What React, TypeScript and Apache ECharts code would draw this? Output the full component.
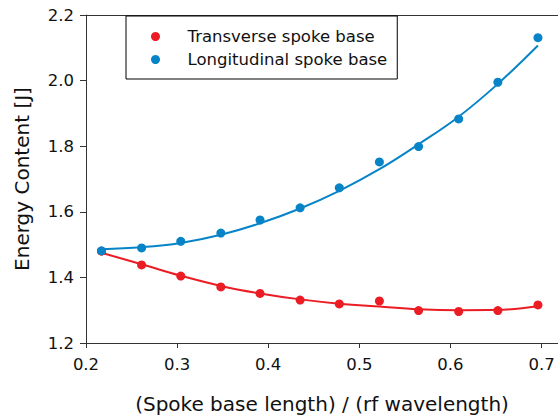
import React, { useEffect, useRef } from "react";
import * as echarts from "echarts";

const xValues = [0.217, 0.261, 0.304, 0.348, 0.391, 0.435, 0.478, 0.522, 0.565, 0.609, 0.652, 0.696];
const transverseData = [1.48, 1.438, 1.404, 1.371, 1.351, 1.331, 1.319, 1.328, 1.299, 1.296, 1.299, 1.316];
const longitudinalData = [1.481, 1.49, 1.51, 1.535, 1.575, 1.612, 1.673, 1.752, 1.799, 1.883, 1.995, 2.131];
const transverseFit = [1.475, 1.44, 1.405, 1.374, 1.351, 1.333, 1.32, 1.311, 1.303, 1.3, 1.301, 1.312];
const longitudinalFit = [1.486, 1.492, 1.505, 1.53, 1.565, 1.61, 1.664, 1.73, 1.806, 1.89, 1.99, 2.107];
const seriesNames = ["Transverse spoke base", "Longitudinal spoke base"];
const xTitle = "(Spoke base length) / (rf wavelength)";
const yTitle = "Energy Content [J]";

const RED = "#ec1c24";
const BLUE = "#0784c8";
const FONT = "DejaVu Sans";

const pairs = (ys: number[]) => xValues.map((x, i) => [x, ys[i]]);

export default function App() {
  const ref = useRef<HTMLDivElement>(null);
  useEffect(() => {
    if (!ref.current) return;
    const chart = echarts.init(ref.current, null, { renderer: "svg" });
    chart.setOption({
      animation: false,
      backgroundColor: "#fff",
      textStyle: { fontFamily: FONT },
      grid: { left: 86, right: 0, top: 15, bottom: 73, containLabel: false },
      legend: {
        orient: "vertical",
        left: 126,
        top: 16,
        padding: [12, 10, 11, 25],
        itemWidth: 54,
        itemHeight: 9,
        itemGap: 6,
        borderColor: "#000",
        borderWidth: 1,
        backgroundColor: "#fff",
        data: seriesNames.map((n) => ({ name: n, icon: "circle" })),
        itemStyle: { opacity: 1 },
        textStyle: { fontFamily: FONT, fontSize: 16.5, color: "#111" },
      },
      xAxis: [
        {
          type: "value",
          min: 0.2,
          max: 0.718,
          interval: 0.1,
          name: xTitle,
          nameLocation: "middle",
          nameGap: 51,
          nameTextStyle: { fontFamily: FONT, fontSize: 20, color: "#111" },
          axisLine: { show: true, lineStyle: { color: "#333", width: 1 } },
          axisTick: { show: true, inside: false, length: 5, lineStyle: { color: "#333" } },
          axisLabel: {
            fontFamily: FONT,
            fontSize: 16.5,
            color: "#111",
            margin: 13,
            showMaxLabel: false,
            formatter: (v: number) => v.toFixed(1),
          },
          splitLine: { show: false },
        },
        {
          type: "value",
          position: "top",
          min: 0.2,
          max: 0.718,
          axisLine: { show: true, lineStyle: { color: "#333", width: 1 } },
          axisTick: { show: false },
          axisLabel: { show: false },
          splitLine: { show: false },
        },
      ],
      yAxis: {
        type: "value",
        min: 1.2,
        max: 2.2,
        interval: 0.2,
        name: yTitle,
        nameLocation: "middle",
        nameGap: 54,
        nameTextStyle: { fontFamily: FONT, fontSize: 20, color: "#111" },
        axisLine: { show: true, lineStyle: { color: "#333", width: 1 } },
        axisTick: { show: true, inside: false, length: 6, lineStyle: { color: "#333" } },
        axisLabel: {
          fontFamily: FONT,
          fontSize: 16.5,
          color: "#111",
          margin: 12,
          formatter: (v: number) => v.toFixed(1),
        },
        splitLine: { show: false },
      },
      series: [
        {
          name: seriesNames[0] + " fit",
          type: "line",
          data: pairs(transverseFit),
          smooth: 0.4,
          showSymbol: false,
          lineStyle: { color: RED, width: 2 },
          itemStyle: { color: RED },
          z: 2,
        },
        {
          name: seriesNames[1] + " fit",
          type: "line",
          data: pairs(longitudinalFit),
          smooth: 0.4,
          showSymbol: false,
          lineStyle: { color: BLUE, width: 2 },
          itemStyle: { color: BLUE },
          z: 2,
        },
        {
          name: seriesNames[0],
          type: "scatter",
          data: pairs(transverseData),
          symbol: "circle",
          symbolSize: 9,
          itemStyle: { color: RED, opacity: 1 },
          z: 3,
        },
        {
          name: seriesNames[1],
          type: "scatter",
          data: pairs(longitudinalData),
          symbol: "circle",
          symbolSize: 9,
          itemStyle: { color: BLUE, opacity: 1 },
          z: 4,
        },
      ],
    });
    return () => chart.dispose();
  }, []);
  return <div ref={ref} style={{ width: 558, height: 419, position: "absolute", left: 0, top: 0 }} />;
}
